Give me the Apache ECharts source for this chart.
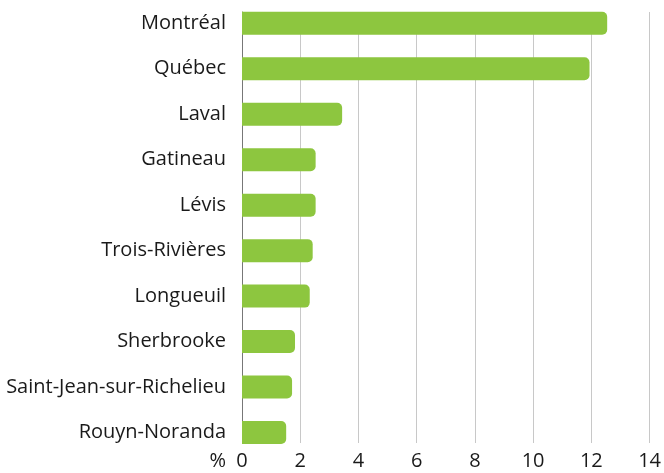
<!DOCTYPE html>
<html><head><meta charset="utf-8">
<script src="https://cdn.jsdelivr.net/npm/echarts@6/dist/echarts.min.js"></script>
<style>html,body{margin:0;padding:0;background:#fff}#c{width:664px;height:473px}</style>
</head><body><div id="c"></div>
<script>
const categories = ['Montréal','Québec','Laval','Gatineau','Lévis','Trois-Rivières','Longueuil','Sherbrooke','Saint-Jean-sur-Richelieu','Rouyn-Noranda'];
const values = [12.4, 11.8, 3.4, 2.5, 2.5, 2.4, 2.3, 1.8, 1.7, 1.5];
const tickLabels = ['0','2','4','6','8','10','12','14'];
const unitLabel = '%';

const font = 'Open Sans';
const chart = echarts.init(document.getElementById('c'));
chart.setOption({
  animation: false,
  grid: [
    {left: 242, right: 9.7, top: 0.6, bottom: 17.8},
    {left: 242, right: 9.7, top: 12, bottom: 30}
  ],
  xAxis: [
    {gridIndex: 0, type: 'value', min: 0, max: 14, interval: 2, show: false},
    {gridIndex: 1, type: 'value', min: 0, max: 14, interval: 2,
     axisLine: {show: false}, axisTick: {show: false},
     splitLine: {show: true, lineStyle: {color: '#c8c8c8', width: 1}},
     axisLabel: {color: '#1a1a1a', fontFamily: font, fontSize: 20, margin: 8,
       formatter: (v) => tickLabels[Math.round(v / 2)]},
     name: unitLabel, nameLocation: 'start', nameGap: 16,
     nameTextStyle: {color: '#1a1a1a', fontFamily: font, fontSize: 20, verticalAlign: 'top', padding: [8, 0, 0, 0]}
    }
  ],
  yAxis: [
    {gridIndex: 0, type: 'category', data: categories, inverse: true,
     axisLine: {show: false}, axisTick: {show: false},
     axisLabel: {color: '#1a1a1a', fontFamily: font, fontSize: 20, margin: 16}},
    {gridIndex: 1, type: 'value', min: 0, max: 1, axisLabel: {show: false}, axisTick: {show: false},
     splitLine: {show: false}, axisLine: {show: true, lineStyle: {color: '#777', width: 1}}}
  ],
  series: [{
    type: 'bar', xAxisIndex: 0, yAxisIndex: 0, data: values,
    barWidth: 23, z: 3,
    itemStyle: {color: '#8dc63f', borderRadius: [0, 5, 5, 0]}
  }]
});
</script></body></html>
